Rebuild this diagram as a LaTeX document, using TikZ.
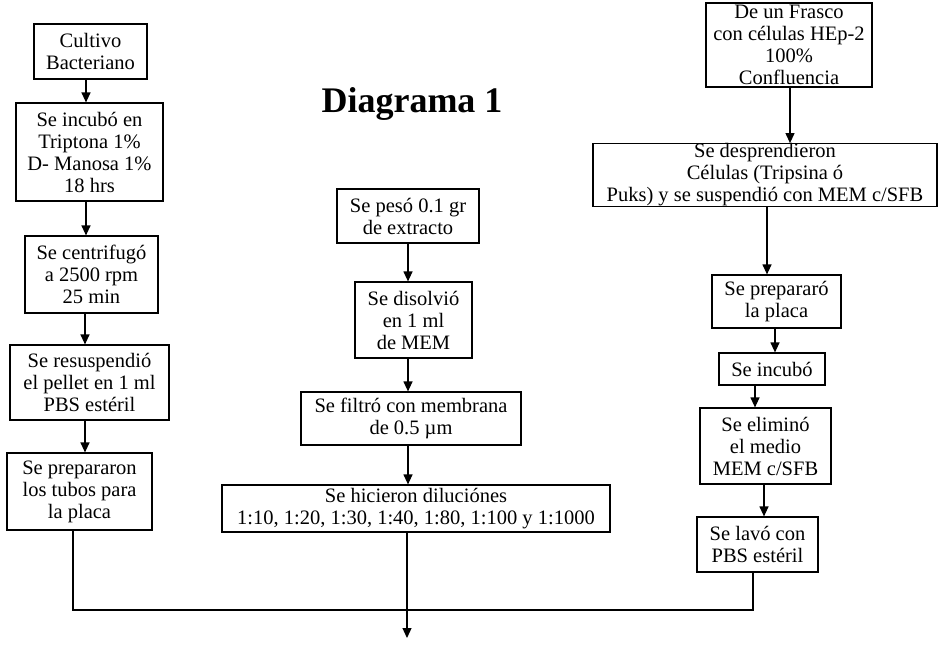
\documentclass[tikz,border=0pt]{standalone}
\usepackage{fontspec}
\setmainfont{Liberation Serif}
\usetikzlibrary{arrows.meta}
\begin{document}
\begin{tikzpicture}[x=1pt,y=-1pt,
  box/.style={draw,line width=1.2pt,rectangle,inner sep=0pt,align=center,
    font=\fontsize{20.5}{22}\selectfont},
  arr/.style={line width=1.2pt,-{Triangle[length=10pt,width=9pt]}},
  ln/.style={line width=1.2pt}]
\useasboundingbox (0,0) rectangle (939,651);
% title
\node[font=\fontsize{36}{40}\bfseries] (title) at (412,104) {Diagrama 1};
% left column
\node[box,minimum width=113pt,minimum height=55pt] (A) at (90.5,51.5) {Cultivo\\Bacteriano};
\node[box,minimum width=147pt,minimum height=98pt] (B) at (89.5,152) {Se incubó en\\Triptona 1\%\\D- Manosa 1\%\\18 hrs};
\node[box,minimum width=133pt,minimum height=77pt] (C) at (91.5,274.5) {Se centrifugó\\a 2500 rpm\\25 min};
\node[box,minimum width=159pt,minimum height=75pt] (D) at (89.5,382.5) {Se resuspendió\\el pellet en 1 ml\\PBS estéril};
\node[box,minimum width=145pt,minimum height=77pt] (E) at (79.5,491.5) {Se prepararon\\los tubos para\\la placa};
% middle column
\node[box,minimum width=142pt,minimum height=54pt] (F) at (408,216) {Se pesó 0.1 gr\\de extracto};
\node[box,minimum width=117pt,minimum height=76pt] (G) at (413.5,320) {Se disolvió\\en 1 ml\\de MEM};
\node[box,minimum width=220pt,minimum height=53pt] (H) at (411,418.5) {Se filtró con membrana\\de 0.5 µm};
\node[box,minimum width=388pt,minimum height=47pt] (I) at (416,508.5) {Se hicieron diluciónes\\1:10, 1:20, 1:30, 1:40, 1:80, 1:100 y 1:1000};
% right column
\node[box,minimum width=166pt,minimum height=84pt] (J) at (789,45) {De un Frasco\\con células HEp-2\\100\%\\Confluencia};
\node[box,minimum width=344pt,minimum height=53pt] (K) at (765,175) {Se desprendieron\\Células (Tripsina ó\\Puks) y se suspendió con MEM c/SFB};
\node[box,minimum width=129pt,minimum height=53pt] (L) at (776.5,301.5) {Se prepararó\\la placa};
\node[box,minimum width=106pt,minimum height=32pt] (M) at (772,369) {Se incubó};
\node[box,minimum width=131pt,minimum height=76pt] (N) at (765.5,446) {Se eliminó\\el medio\\MEM c/SFB};
\node[box,minimum width=121pt,minimum height=55pt] (O) at (757.5,544.5) {Se lavó con\\PBS estéril};
% arrows left
\draw[arr] ([xshift=-4.5pt]A.south) -- ([xshift=-4.5pt]A.south |- B.north);
\draw[arr] ([xshift=-3.5pt]B.south) -- ([xshift=-3.5pt]B.south |- C.north);
\draw[arr] ([xshift=-6.5pt]C.south) -- ([xshift=-6.5pt]C.south |- D.north);
\draw[arr] ([xshift=-4.5pt]D.south) -- ([xshift=-4.5pt]D.south |- E.north);
% arrows middle
\draw[arr] (F.south) -- (F.south |- G.north);
\draw[arr] ([xshift=-5.5pt]G.south) -- ([xshift=-5.5pt]G.south |- H.north);
\draw[arr] ([xshift=-3pt]H.south) -- ([xshift=-3pt]H.south |- I.north);
% arrows right
\draw[arr] ([xshift=1pt]J.south) -- ([xshift=1pt]J.south |- K.north);
\draw[arr] ([xshift=2pt]K.south) -- ([xshift=2pt]K.south |- L.north);
\draw[arr] ([xshift=-1.5pt]L.south) -- ([xshift=-1.5pt]L.south |- M.north);
\draw[arr] ([xshift=-17pt]M.south) -- ([xshift=-17pt]M.south |- N.north);
\draw[arr] ([xshift=-1.5pt]N.south) -- ([xshift=-1.5pt]N.south |- O.north);
% merge
\coordinate (jl) at (73,610);
\coordinate (jr) at (753,610);
\coordinate (fin) at (407,638);
\draw[ln] ([xshift=-6.5pt]E.south) -- (jl) -- (jr) -- ([xshift=-4.5pt]O.south);
\draw[arr] ([xshift=-9pt]I.south) -- (fin);
\end{tikzpicture}
\end{document}
